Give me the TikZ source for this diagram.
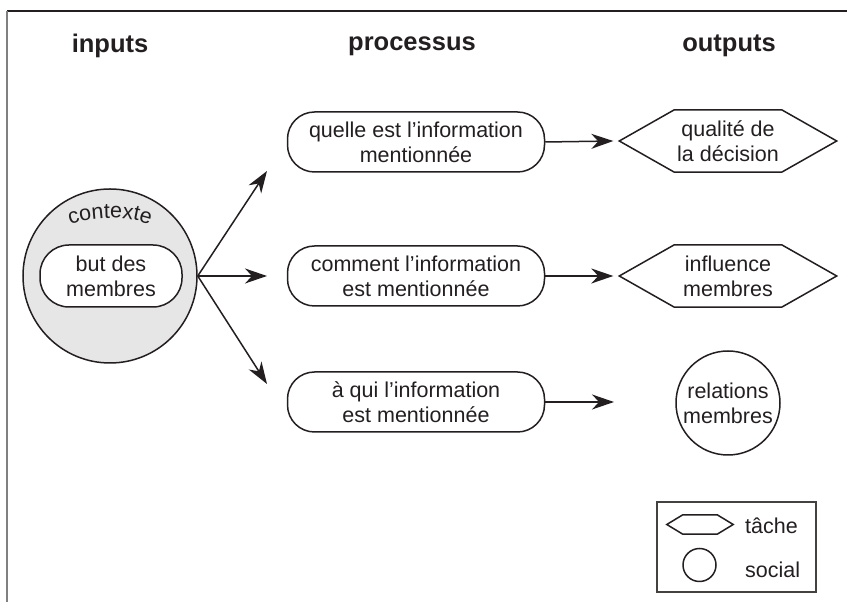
\documentclass[tikz,border=0pt]{standalone}
\usepackage{fontspec}
\setmainfont{Liberation Sans}
\usetikzlibrary{arrows.meta,decorations.text}
\definecolor{ink}{RGB}{35,31,32}
\definecolor{ctxfill}{RGB}{230,230,230}
\begin{document}
\begin{tikzpicture}[x=1pt,y=1pt,
  every node/.style={font=\fontsize{21.5}{25}\selectfont, align=center, text=ink},
  ln/.style={line width=1.5pt, draw=ink},
  head/.style={font=\fontsize{25.5}{30}\selectfont\bfseries},
  procbox/.style={draw=ink, line width=1.5pt, rounded corners=27pt, minimum width=257pt, minimum height=60pt, inner sep=0pt},
  hexbox/.style={minimum width=217pt, minimum height=62pt, inner sep=0pt},
  arr/.style={line width=1.5pt, draw=ink, -{Stealth[length=22pt,width=15pt,inset=7pt]}},
]
\useasboundingbox (0,0) rectangle (847,602);
% frame
\draw[line width=1.2pt, ink] (7,591) -- (847,591);
\draw[line width=2pt, gray] (7,591) -- (7,0);

% headers
\node[head] (hin) at (110,556) {inputs};
\node[head] (hpr) at (412,556) {processus};
\node[head] (hout) at (729,556) {outputs};

% context circle
\node[circle, draw=ink, fill=ctxfill, line width=1.5pt, minimum size=174pt, inner sep=0pt] (ctx) at (110,326) {};
\node[draw=ink, fill=white, line width=1.5pt, rounded corners=29pt, minimum width=142pt, minimum height=62pt, inner sep=0pt] (but) at (111,326) {but des\\membres};
\path[decorate, decoration={text along path, text={|\fontsize{21.5}{25}\selectfont\color{ink}|contexte}, text align=center}]
  (110,256) ++(113:128) arc[start angle=113, end angle=67, radius=128];

% process boxes
\node[procbox] (p1) at (416,460) {quelle est l’information\\mentionnée};
\node[procbox] (p2) at (416,326) {comment l’information\\est mentionnée};
\node[procbox] (p3) at (416,200) {à qui l’information\\est mentionnée};

% arrows from context
\coordinate (t1) at (267,431);
\coordinate (t2) at (267,326);
\coordinate (t3) at (267,218);
\draw[arr] (ctx.east) -- (t1);
\draw[arr] (ctx.east) -- (t2);
\draw[arr] (ctx.east) -- (t3);

% outputs
\node[hexbox] (o1) at (728,461) {qualité de\\la décision};
\node[hexbox] (o2) at (728,326) {influence\\membres};
\node[circle, draw=ink, line width=1.5pt, minimum size=104pt, inner sep=0pt] (o3) at (728,199) {relations\\membres};
\foreach \h in {o1,o2}{
  \draw[ln] (\h.west) -- ([xshift=55pt]\h.north west) -- ([xshift=-55pt]\h.north east) -- (\h.east)
    -- ([xshift=-55pt]\h.south east) -- ([xshift=55pt]\h.south west) -- cycle;
}

% arrows to outputs
\draw[arr] (p1.east) -- ([xshift=-6pt]o1.west);
\draw[arr] (p2.east) -- ([xshift=-6pt]o2.west);
\coordinate (t6) at (614,200);
\draw[arr] (p3.east) -- (t6);

% legend
\node[draw=ink!85, line width=1.2pt, minimum width=159pt, minimum height=90pt, inner sep=0pt] (leg) at (736.5,55) {};
\node[minimum width=66pt, minimum height=19pt, inner sep=0pt] (lh) at (700,77.5) {};
\draw[ln] (lh.west) -- ([xshift=16pt]lh.north west) -- ([xshift=-16pt]lh.north east) -- (lh.east)
    -- ([xshift=-16pt]lh.south east) -- ([xshift=16pt]lh.south west) -- cycle;
\node[circle, draw=ink, line width=1.5pt, minimum size=33pt, inner sep=0pt] (lc) at (699.5,37) {};
\node[anchor=west, inner sep=0pt] (lt) at (745,76) {tâche};
\node[anchor=west, inner sep=0pt] (ls) at (745,32) {social};
\end{tikzpicture}
\end{document}
